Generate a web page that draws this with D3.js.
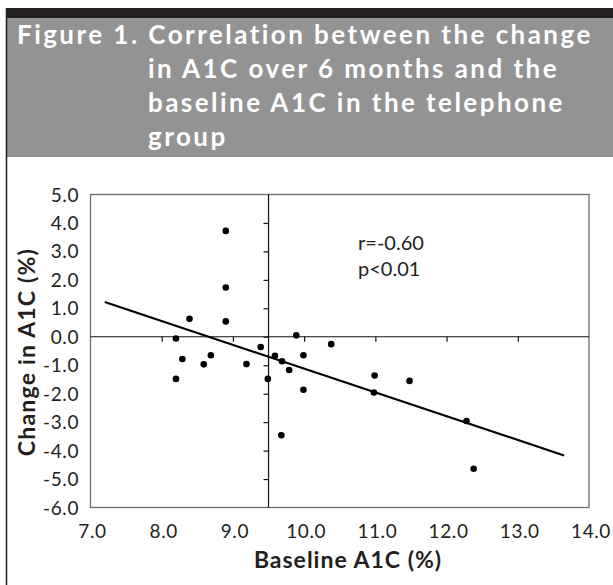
<!DOCTYPE html>
<html><head><meta charset="utf-8">
<script src="https://cdn.jsdelivr.net/npm/d3@7"></script>
<style>
html,body{margin:0;padding:0;background:#fff;}
svg{display:block;}
</style></head>
<body>
<svg id="chart" width="613" height="585"></svg>
<script>
// ---- data ----
const titleLines = ["Figure 1. Correlation between the change", "in A1C over 6 months and the", "baseline A1C in the telephone", "group"];
const baselineA1C = [8.90, 8.90, 8.39, 8.90, 8.20, 9.89, 8.29, 8.59, 8.69, 9.19, 9.39, 8.20, 9.49, 9.59, 9.69, 9.79, 9.99, 9.99, 9.68, 10.38, 10.99, 11.48, 10.98, 12.28, 12.38];
const changeA1C   = [3.72, 1.73, 0.63, 0.54, -0.06, 0.05, -0.78, -0.97, -0.65, -0.96, -0.36, -1.48, -1.48, -0.67, -0.86, -1.17, -0.65, -1.86, -3.46, -0.26, -1.36, -1.55, -1.96, -2.96, -4.64];
const fitX = [7.2, 13.65];
const fitY = [1.22, -4.17];
const xTicks = [7, 8, 9, 10, 11, 12, 13, 14];
const yTicks = [5, 4, 3, 2, 1, 0, -1, -2, -3, -4, -5, -6];
const yAxisCross = 9.5;
const annotation = ["r=-0.60", "p<0.01"];
const xTitle = "Baseline A1C (%)";
const yTitle = "Change in A1C (%)";

// ---- layout ----
const svg = d3.select("#chart");
const L = 90.5, R = 589, T = 194.5, B = 507.5;
const x = d3.scaleLinear().domain([7, 14]).range([L, R]);
const y = d3.scaleLinear().domain([-6, 5]).range([B, T]);
const font = "Lato, 'Open Sans', sans-serif";
const ink = "#231f20";

// frame + header
svg.append("rect").attr("x", 6).attr("y", 8).attr("width", 607).attr("height", 10).attr("fill", ink);
svg.append("rect").attr("x", 6).attr("y", 18).attr("width", 607).attr("height", 139).attr("fill", "#939393");
svg.append("line").attr("x1", 6.5).attr("x2", 6.5).attr("y1", 8).attr("y2", 585).attr("stroke", ink).attr("stroke-width", 1.5);

const tt = svg.append("g").attr("font-family", font).attr("font-weight", "bold").attr("font-size", 26).attr("fill", "#fff").attr("letter-spacing", 2.45);
titleLines.forEach((s, i) => {
  tt.append("text").attr("x", i === 0 ? 17 : 148).attr("y", 44 + i * 34).text(s);
});

// plot box
svg.append("rect").attr("x", L).attr("y", T).attr("width", R - L).attr("height", B - T)
  .attr("fill", "none").attr("stroke", "#6d6d6d").attr("stroke-width", 1.3);

// axes crossing at zero / 9.5
const xAxis = d3.axisBottom(x).tickValues(xTicks.slice(1, -1)).tickSize(5).tickFormat("");
const gx = svg.append("g").attr("transform", `translate(0,${y(0)})`).call(xAxis);
gx.select(".domain").attr("d", `M${L},0H${R}`);
const yAxis = d3.axisLeft(y).tickValues(yTicks.slice(1, -1)).tickSize(5).tickFormat("");
const gy = svg.append("g").attr("transform", `translate(${x(yAxisCross)},0)`).call(yAxis);
gy.select(".domain").attr("d", `M0,${T}V${B}`);
svg.selectAll(".tick line").attr("stroke", "#111").attr("stroke-width", 1.2);
svg.selectAll(".domain").attr("stroke", "#111").attr("stroke-width", 1.2);

// tick labels
const lab = svg.append("g").attr("font-family", font).attr("font-size", 19).attr("fill", ink).attr("letter-spacing", 0.6);
xTicks.forEach(v => lab.append("text").attr("x", x(v) + 2).attr("y", 538).attr("text-anchor", "middle").text(v.toFixed(1)));
yTicks.forEach(v => lab.append("text").attr("x", 79).attr("y", y(v) + 7).attr("text-anchor", "end").text(v.toFixed(1)));

// axis titles
svg.append("text").attr("x", 348).attr("y", 568).attr("text-anchor", "middle").attr("letter-spacing", 1)
  .attr("font-family", font).attr("font-weight", "bold").attr("font-size", 23).attr("fill", ink).text(xTitle);
svg.append("text").attr("transform", `translate(35,352) rotate(-90)`).attr("text-anchor", "middle").attr("letter-spacing", 1.2)
  .attr("font-family", font).attr("font-weight", "bold").attr("font-size", 23).attr("fill", ink).text(yTitle);

// regression line
svg.append("line").attr("x1", x(fitX[0])).attr("y1", y(fitY[0])).attr("x2", x(fitX[1])).attr("y2", y(fitY[1]))
  .attr("stroke", "#000").attr("stroke-width", 2.2);

// points
svg.append("g").selectAll("circle").data(baselineA1C).join("circle")
  .attr("cx", d => x(d)).attr("cy", (d, i) => y(changeA1C[i])).attr("r", 3.3).attr("fill", "#000");

// annotation
const an = svg.append("g").attr("font-family", font).attr("font-size", 20).attr("fill", ink);
annotation.forEach((s, i) => an.append("text").attr("x", 358).attr("y", 250 + i * 26).text(s));
</script>
</body></html>
